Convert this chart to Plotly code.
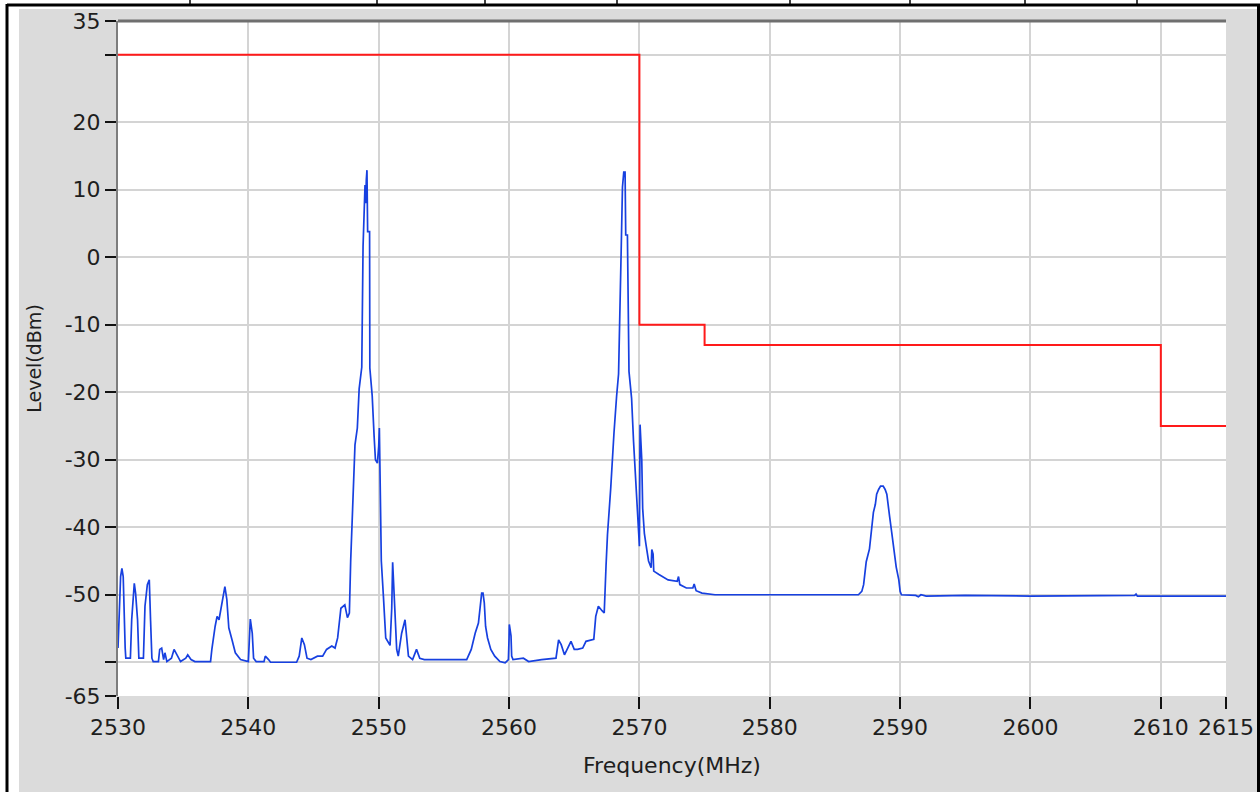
import plotly.graph_objects as go

# ---------------- data ----------------
spec_freq = [
    2530.0, 2530.03, 2530.2, 2530.3, 2530.4, 2530.55, 2530.6, 2530.95, 2531.05, 2531.25,
    2531.35, 2531.5, 2531.6, 2531.95, 2532.07, 2532.25, 2532.4, 2532.5, 2532.6, 2532.7,
    2533.1, 2533.2, 2533.35, 2533.5, 2533.6, 2533.75, 2534.1, 2534.3, 2534.5, 2534.8,
    2535.2, 2535.35, 2535.6, 2535.9, 2537.1, 2537.2, 2537.45, 2537.6, 2537.75, 2538.0,
    2538.2, 2538.35, 2538.5, 2538.75, 2539.0, 2539.4, 2540.0, 2540.15, 2540.3, 2540.4,
    2540.6, 2541.2, 2541.3, 2541.55, 2541.7, 2543.7, 2543.9, 2544.1, 2544.3, 2544.5,
    2544.8, 2545.3, 2545.7, 2546.0, 2546.4, 2546.65, 2546.85, 2547.1, 2547.4, 2547.6,
    2547.75, 2547.85, 2548.0, 2548.18, 2548.36, 2548.5, 2548.7, 2548.8, 2548.95, 2549.0,
    2549.05, 2549.1, 2549.15, 2549.3, 2549.32, 2549.5, 2549.65, 2549.75, 2549.9, 2550.0,
    2550.05, 2550.1, 2550.2, 2550.36, 2550.54, 2550.87, 2551.0, 2551.07, 2551.2, 2551.38,
    2551.5, 2551.76, 2552.02, 2552.15, 2552.28, 2552.6, 2552.9, 2553.15, 2553.5, 2556.75,
    2557.1, 2557.4, 2557.65, 2557.9, 2558.0, 2558.1, 2558.2, 2558.35, 2558.6, 2558.9,
    2559.3, 2559.7, 2559.95, 2560.0, 2560.02, 2560.15, 2560.2, 2560.3, 2561.1, 2561.5,
    2562.5, 2563.6, 2563.8, 2564.0, 2564.25, 2564.75, 2565.0, 2565.25, 2565.65, 2565.9,
    2566.5, 2566.65, 2566.85, 2567.15, 2567.3, 2567.44, 2567.55, 2567.8, 2567.95, 2568.05,
    2568.25, 2568.4, 2568.6, 2568.7, 2568.8, 2568.9, 2568.95, 2569.08, 2569.2, 2569.4,
    2569.55, 2569.65, 2569.85, 2570.0, 2570.05, 2570.18, 2570.25, 2570.38, 2570.5, 2570.7,
    2570.9, 2570.95, 2571.05, 2571.1, 2571.5, 2572.2, 2572.9, 2573.0, 2573.1, 2573.6,
    2574.1, 2574.2, 2574.35, 2574.8, 2575.8, 2586.8, 2587.06, 2587.2, 2587.3, 2587.4,
    2587.65, 2587.8, 2587.95, 2588.1, 2588.2, 2588.35, 2588.5, 2588.7, 2588.85, 2588.98,
    2589.1, 2589.2, 2589.35, 2589.5, 2589.7, 2589.9, 2590.0, 2590.1, 2591.2, 2591.4,
    2591.6, 2592.0, 2595.0, 2600.0, 2608.0, 2608.1, 2608.2, 2615.0,
]
spec_level = [
    -57.9, -56.3, -47.3, -46.1, -47.3, -57.9, -59.4, -59.4, -53.7, -48.3,
    -49.8, -53.7, -59.4, -59.4, -51.7, -48.5, -47.8, -53.9, -59.4, -59.9,
    -59.9, -58.1, -57.9, -59.6, -58.6, -59.9, -59.4, -58.1, -58.9, -59.9,
    -59.4, -58.9, -59.6, -59.9, -59.9, -58.1, -54.7, -53.2, -53.7, -50.7,
    -48.8, -50.7, -54.9, -56.7, -58.6, -59.6, -59.9, -53.6, -55.7, -59.4,
    -59.9, -59.9, -59.1, -59.6, -60.0, -60.0, -59.1, -56.4, -57.4, -59.4,
    -59.6, -59.1, -59.1, -58.1, -57.6, -57.9, -56.4, -52.0, -51.5, -53.4,
    -52.7, -45.0, -38.0, -27.8, -25.3, -19.5, -16.3, 1.6, 10.7, 8.0,
    11.5, 12.9, 3.8, 3.8, -16.4, -20.5, -26.6, -30.0, -30.5, -28.0,
    -25.3, -32.0, -45.0, -50.2, -56.4, -57.5, -52.0, -45.2, -50.0, -58.1,
    -59.1, -55.7, -53.7, -56.6, -59.1, -59.6, -58.1, -59.4, -59.6, -59.6,
    -58.1, -55.7, -54.2, -49.75, -49.75, -51.2, -54.7, -56.4, -58.1, -59.1,
    -59.9, -60.1, -59.6, -56.4, -54.4, -56.1, -59.1, -59.6, -59.4, -59.9,
    -59.6, -59.4, -56.7, -57.4, -58.9, -56.9, -58.1, -58.1, -57.9, -56.9,
    -56.6, -53.2, -51.7, -52.4, -52.7, -45.7, -41.1, -34.2, -28.8, -26.0,
    -20.6, -17.3, 0.9, 10.4, 12.6, 12.6, 3.3, 3.3, -16.9, -20.9,
    -27.3, -30.5, -37.2, -42.8, -24.8, -30.0, -37.2, -40.9, -42.5, -45.0,
    -46.0, -43.3, -44.0, -46.5, -47.0, -47.8, -48.0, -47.3, -48.5, -49.0,
    -49.0, -48.4, -49.4, -49.75, -50.0, -50.0, -49.5, -48.5, -46.8, -45.1,
    -43.2, -40.0, -37.8, -36.6, -35.1, -34.4, -33.9, -33.9, -34.4, -35.1,
    -36.6, -38.5, -40.7, -42.9, -45.9, -47.8, -49.5, -50.0, -50.1, -50.3,
    -50.0, -50.2, -50.1, -50.2, -50.1, -49.9, -50.2, -50.2,
]

# limit mask (step line)
mask_freq = [2530, 2570, 2570, 2575, 2575, 2610, 2610, 2615]
mask_level = [30, 30, -10, -10, -13, -13, -25, -25]

x_tick_vals = [2530, 2540, 2550, 2560, 2570, 2580, 2590, 2600, 2610, 2615]
x_tick_text = ["2530", "2540", "2550", "2560", "2570", "2580", "2590", "2600", "2610", "2615"]
y_tick_vals = [35, 30, 20, 10, 0, -10, -20, -30, -40, -50, -60, -65]
y_tick_text = ["35", "", "20", "10", "0", "-10", "-20", "-30", "-40", "-50", "", "-65"]

# ---------------- layout geometry (pixels) ----------------
W, H = 1260, 792
PL, PR, PT, PB = 118, 1226, 21, 696


def px(xpix):
    return (xpix - PL) / (PR - PL)


def py(ypix):
    return (PB - ypix) / (PB - PT)


fig = go.Figure()
fig.add_trace(go.Scatter(x=spec_freq, y=spec_level, mode="lines",
                         line=dict(color="#1740e0", width=1.7), showlegend=False,
                         hoverinfo="x+y"))
fig.add_trace(go.Scatter(x=mask_freq, y=mask_level, mode="lines",
                         line=dict(color="#ff1a1a", width=2), showlegend=False,
                         hoverinfo="x+y"))

font_family = "DejaVu Sans"

fig.update_layout(
    width=W, height=H,
    margin=dict(l=PL, r=W - PR, t=PT, b=H - PB, pad=0),
    paper_bgcolor="#dbdbdb",
    plot_bgcolor="white",
    font=dict(family=font_family, size=21, color="#1e1e1e"),
    xaxis=dict(
        range=[2530, 2615], tickmode="array", tickvals=x_tick_vals, ticktext=x_tick_text,
        showgrid=True, gridcolor="#d4d4d4", gridwidth=2,
        ticks="outside", ticklen=12, tickwidth=2, tickcolor="#111",
        showline=False, zeroline=False,
        title=dict(text="Frequency(MHz)", standoff=18, font=dict(size=22)),
        tickfont=dict(size=22),
        automargin=False,
    ),
    yaxis=dict(
        range=[-65, 35], tickmode="array", tickvals=y_tick_vals, ticktext=y_tick_text,
        showgrid=True, gridcolor="#d4d4d4", gridwidth=2,
        ticks="outside", ticklen=11, tickwidth=2, tickcolor="#111",
        showline=True, linecolor="#7d7d7d", linewidth=2, zeroline=False,
        title=dict(text="Level(dBm)", standoff=18, font=dict(size=19)),
        tickfont=dict(size=22),
        automargin=False,
    ),
)

shapes = []
# white outer frame strips
shapes.append(dict(type="rect", xref="paper", yref="paper", x0=px(0), x1=px(19), y0=py(H), y1=py(0),
                   fillcolor="white", line_width=0, layer="below"))
shapes.append(dict(type="rect", xref="paper", yref="paper", x0=px(0), x1=px(W), y0=py(9), y1=py(0),
                   fillcolor="white", line_width=0, layer="below"))
# black frame lines
shapes.append(dict(type="line", xref="paper", yref="paper", x0=px(7), x1=px(7), y0=py(H), y1=py(4),
                   line=dict(color="black", width=3), layer="above"))
shapes.append(dict(type="line", xref="paper", yref="paper", x0=px(7), x1=px(W), y0=py(5), y1=py(5),
                   line=dict(color="black", width=3), layer="above"))
shapes.append(dict(type="line", xref="paper", yref="paper", x0=px(1258.5), x1=px(1258.5), y0=py(H), y1=py(4),
                   line=dict(color="black", width=3), layer="above"))
for tx in [190, 377, 485, 617, 790, 910, 1025, 1137]:
    shapes.append(dict(type="line", xref="paper", yref="paper", x0=px(tx), x1=px(tx), y0=py(5), y1=py(0),
                       line=dict(color="black", width=1.5), layer="above"))
# top border of the plot area
shapes.append(dict(type="line", xref="paper", yref="paper", x0=0, x1=1, y0=1, y1=1,
                   line=dict(color="#6f6f6f", width=3), layer="above"))
fig.update_layout(shapes=shapes)

fig.write_html("out.html",
               config={"displayModeBar": False},
               post_script="document.body.style.margin='0px';document.body.style.overflow='hidden';")
